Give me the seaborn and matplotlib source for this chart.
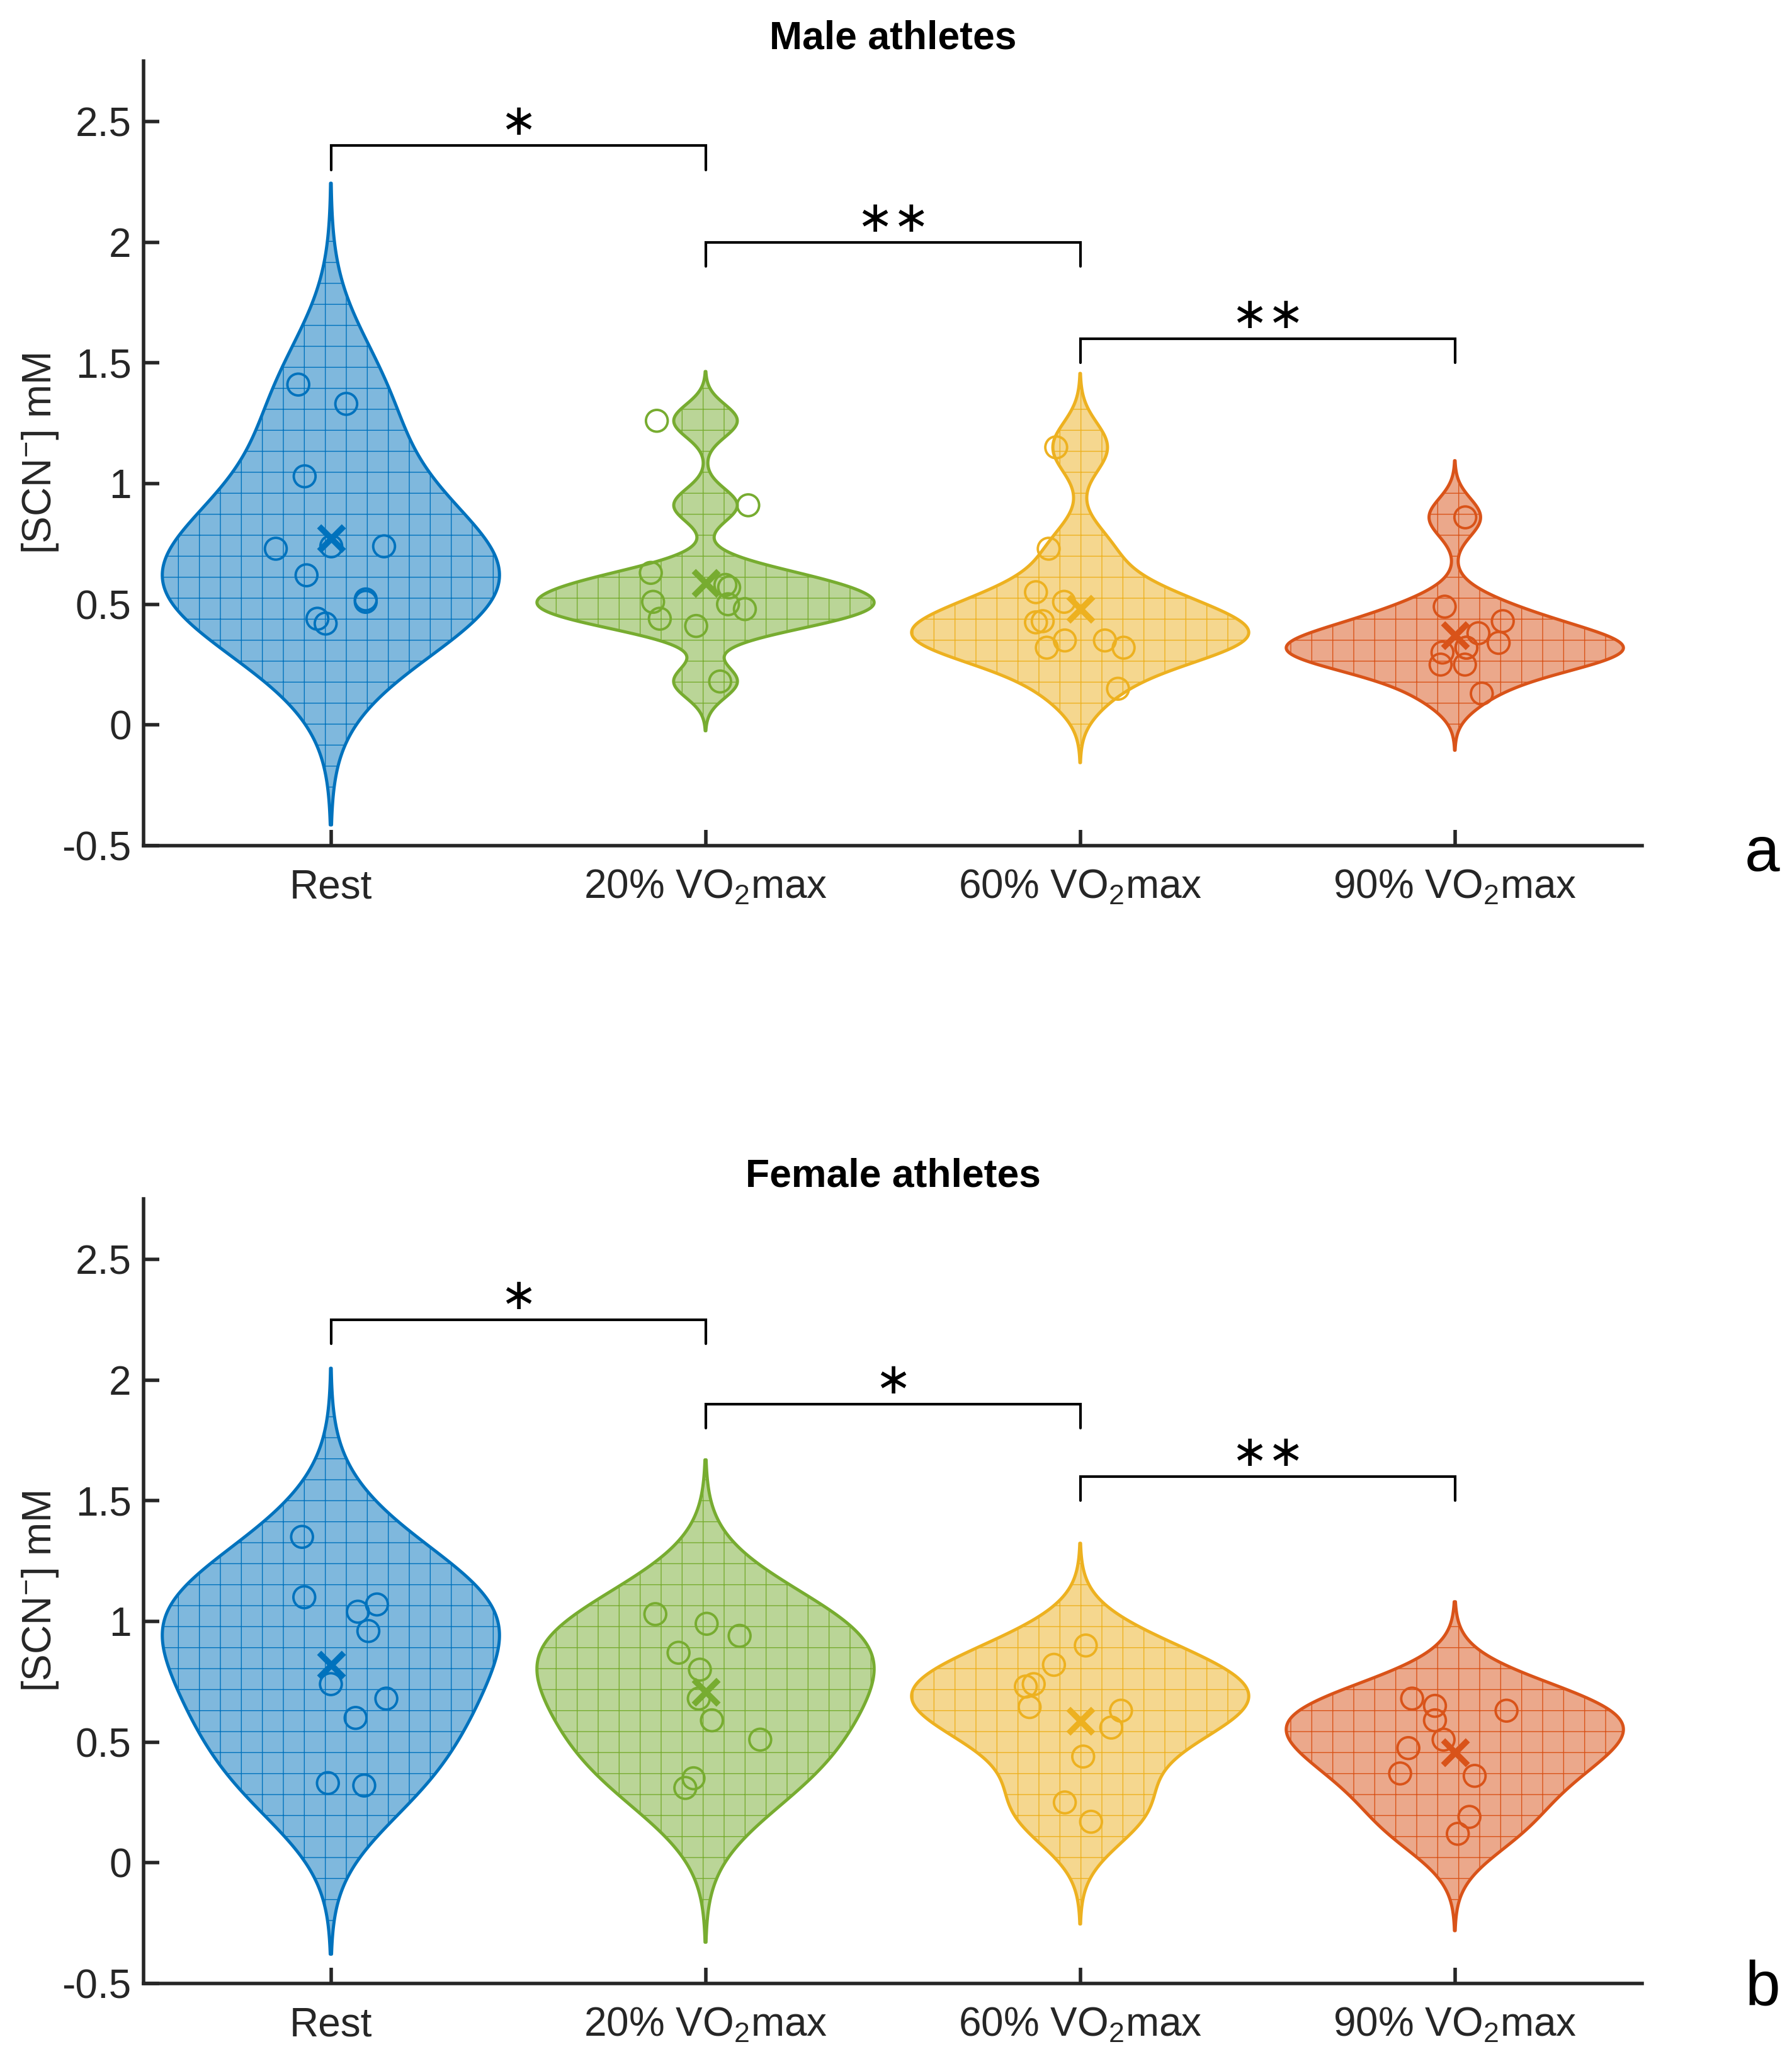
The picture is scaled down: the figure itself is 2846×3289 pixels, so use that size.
import numpy as np
import matplotlib
matplotlib.use("Agg")
import matplotlib.pyplot as plt
import seaborn as sns
from matplotlib.colors import to_rgba

# ---------------- data ----------------
categories = ["Rest", "20% VO$_2$max", "60% VO$_2$max", "90% VO$_2$max"]
colors = ["#0072BD", "#77AC30", "#EDB120", "#D95319"]

# Male athletes
male_rest = [1.41, 1.33, 1.03, 0.73, 0.74, 0.74, 0.62, 0.51, 0.44, 0.42, 0.52]
male_rest_dx = [-0.087, 0.041, -0.070, -0.147, 0.142, 0.001, -0.065, 0.093, -0.036, -0.014, 0.093]
male_20 = [1.26, 0.91, 0.63, 0.51, 0.44, 0.41, 0.58, 0.57, 0.50, 0.48, 0.18]
male_20_dx = [-0.130, 0.114, -0.146, -0.140, -0.122, -0.025, 0.053, 0.063, 0.060, 0.105, 0.039]
male_60 = [1.15, 0.73, 0.55, 0.51, 0.425, 0.43, 0.32, 0.35, 0.35, 0.32, 0.15]
male_60_dx = [-0.064, -0.084, -0.118, -0.043, -0.118, -0.100, -0.089, -0.041, 0.066, 0.116, 0.101]
male_90 = [0.86, 0.49, 0.43, 0.38, 0.34, 0.30, 0.32, 0.25, 0.25, 0.13, 0.32]
male_90_dx = [0.028, -0.027, 0.128, 0.063, 0.117, -0.033, 0.031, -0.038, 0.027, 0.072, 0.031]
male_bw_adjust = [1.3, 1.0, 1.0, 1.15]

# Female athletes
female_rest = [1.35, 1.10, 1.04, 1.07, 0.96, 0.74, 0.60, 0.68, 0.33, 0.32]
female_rest_dx = [-0.077, -0.071, 0.072, 0.123, 0.100, 0.0, 0.066, 0.148, -0.008, 0.089]
female_20 = [1.03, 0.99, 0.94, 0.87, 0.80, 0.68, 0.59, 0.51, 0.35, 0.31]
female_20_dx = [-0.134, 0.003, 0.091, -0.072, -0.015, -0.018, 0.017, 0.146, -0.032, -0.054]
female_60 = [0.90, 0.82, 0.73, 0.74, 0.645, 0.63, 0.56, 0.44, 0.25, 0.17]
female_60_dx = [0.015, -0.070, -0.145, -0.124, -0.135, 0.109, 0.083, 0.008, -0.041, 0.029]
female_90 = [0.68, 0.65, 0.59, 0.51, 0.63, 0.475, 0.37, 0.36, 0.19, 0.12]
female_90_dx = [-0.114, -0.053, -0.053, -0.030, 0.138, -0.124, -0.146, 0.053, 0.039, 0.008]
female_bw_adjust = [1.0, 1.0, 1.0, 1.0]

yticks = [-0.5, 0, 0.5, 1, 1.5, 2, 2.5]
ytick_labels = ["-0.5", "0", "0.5", "1", "1.5", "2", "2.5"]

bracket_left = [1, 2, 3]
bracket_right = [2, 3, 4]
male_bracket_y = [2.4, 2.0, 1.6]
male_stars = ["\u2217", "\u2217\u2217", "\u2217\u2217"]
female_bracket_y = [2.25, 1.9, 1.6]
female_stars = ["\u2217", "\u2217", "\u2217\u2217"]

panels = [
    dict(title="Male athletes", letter="a",
         groups=[male_rest, male_20, male_60, male_90],
         dxs=[male_rest_dx, male_20_dx, male_60_dx, male_90_dx],
         bwa=male_bw_adjust, by=male_bracket_y, stars=male_stars),
    dict(title="Female athletes", letter="b",
         groups=[female_rest, female_20, female_60, female_90],
         dxs=[female_rest_dx, female_20_dx, female_60_dx, female_90_dx],
         bwa=female_bw_adjust, by=female_bracket_y, stars=female_stars),
]

# ---------------- style ----------------
sns.set_theme(style="ticks")
plt.rcParams["font.family"] = ["Liberation Sans", "DejaVu Sans"]
plt.rcParams["mathtext.fontset"] = "custom"
plt.rcParams["mathtext.rm"] = "Liberation Sans"
plt.rcParams["mathtext.it"] = "Liberation Sans:italic"
plt.rcParams["mathtext.bf"] = "Liberation Sans:bold"
plt.rcParams["mathtext.default"] = "regular"
plt.rcParams["hatch.linewidth"] = 0.5
plt.rcParams["axes.unicode_minus"] = False

AX = "#262626"
W, H, DPI = 2846, 3289, 200
fig = plt.figure(figsize=(W / DPI, H / DPI), dpi=DPI)

ax_left = 228 / W
ax_w = 2380 / W
ax_h = 1246 / H
ax_bottoms = [1 - 1343 / H, 1 - 3150 / H]
letter_y = [1 - 1357 / H, 1 - 3158 / H]


def matlab_bw(v):
    v = np.asarray(v, float)
    sig = np.median(np.abs(v - np.median(v))) / 0.6745
    return sig * (4.0 / (3.0 * len(v))) ** 0.2


for p, bottom, ly in zip(panels, ax_bottoms, letter_y):
    ax = fig.add_axes([ax_left, bottom, ax_w, ax_h])
    for i, (vals, dx, c, bwa) in enumerate(zip(p["groups"], p["dxs"], colors, p["bwa"])):
        pos = i + 1
        vals = np.asarray(vals, float)
        factor = matlab_bw(vals) / np.std(vals, ddof=1)
        with plt.rc_context({"hatch.color": c}):
            n_before = len(ax.collections)
            sns.violinplot(x=np.full(len(vals), pos), y=vals, native_scale=True,
                           orient="x", ax=ax, color=c, saturation=1, inner=None,
                           cut=3, bw_method=factor, bw_adjust=bwa, width=0.9,
                           density_norm="width", linewidth=1.8, linecolor=c,
                           gridsize=300)
            for coll in ax.collections[n_before:]:
                coll.set_facecolor(to_rgba(c, 0.5))
                coll.set_edgecolor(c)
                coll.set_linewidth(1.8)
                coll.set_hatch("+")
                if hasattr(coll, "_hatch_color"):
                    coll._hatch_color = to_rgba(c, 0.75)
        ax.scatter(pos + np.asarray(dx), vals, s=155, facecolors="none",
                   edgecolors=c, linewidths=1.4, zorder=3)
        ax.scatter([pos], [vals.mean()], marker="x", s=200, color=c,
                   linewidths=3.4, zorder=4)

    for l, r, y, s in zip(bracket_left, bracket_right, p["by"], p["stars"]):
        ax.plot([l, l, r, r], [y - 0.1, y, y, y - 0.1], color="black", lw=1.5,
                solid_joinstyle="miter", zorder=5)
        ax.text((l + r) / 2, y + 0.095, s, ha="center", va="center",
                fontsize=25, family=["DejaVu Sans"], color="black")

    ax.set_xlim(0.5, 4.5)
    ax.set_ylim(-0.5, 2.75)
    ax.set_xticks([1, 2, 3, 4])
    ax.set_xticklabels(categories)
    ax.set_yticks(yticks)
    ax.set_yticklabels(ytick_labels)
    ax.set_xlabel("")
    ax.set_ylabel("[SCN$^{-}$] mM", fontsize=23, color=AX)
    ax.yaxis.set_label_coords(-0.0555, 0.5)
    ax.tick_params(axis="both", direction="in", length=9, width=2, color=AX,
                   labelcolor=AX, labelsize=23)
    ax.tick_params(axis="y", pad=7)
    ax.tick_params(axis="x", pad=13)
    for side in ["top", "right"]:
        ax.spines[side].set_visible(False)
    for side in ["left", "bottom"]:
        ax.spines[side].set_linewidth(2)
        ax.spines[side].set_color(AX)
    ax.set_title(p["title"], fontsize=22.5, fontweight="bold", color="black", pad=7)
    fig.text(2799 / W, ly, p["letter"], fontsize=36, ha="center", va="center",
             color="black")

fig.savefig("out.png", dpi=DPI, facecolor="white")
